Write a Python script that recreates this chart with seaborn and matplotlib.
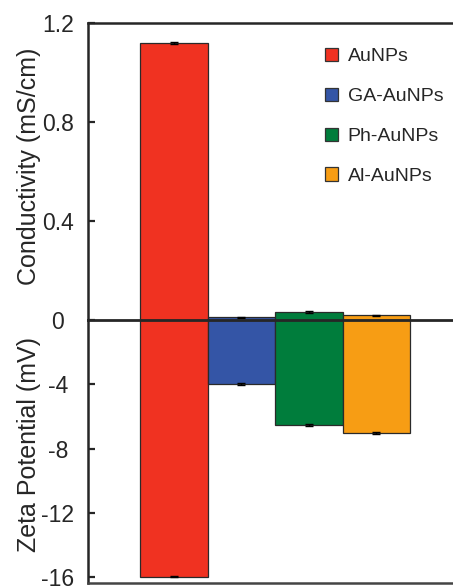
import matplotlib
matplotlib.use("Agg")
import matplotlib.pyplot as plt
import matplotlib.patches as mpatches
import seaborn as sns
import numpy as np

# ---- data ----
categories = ["AuNPs", "GA-AuNPs", "Ph-AuNPs", "Al-AuNPs"]
conductivity = [1.12, 0.012, 0.032, 0.020]      # mS/cm
conductivity_err = [0.005, 0.002, 0.003, 0.002]
zeta = [-15.95, -3.98, -6.53, -7.02]             # mV
zeta_err = [0.05, 0.05, 0.06, 0.05]
colors = ["#F03221", "#3455A6", "#007D3C", "#F79D14"]
cond_ticks = [0.4, 0.8, 1.2]
cond_ticklabels = ["0.4", "0.8", "1.2"]
zeta_ticks = [0, -4, -8, -12, -16]
zeta_ticklabels = ["0", "-4", "-8", "-12", "-16"]

sns.set_style("ticks")
plt.rcParams["font.family"] = ["Liberation Sans", "DejaVu Sans"]

W, H = 453, 586
fig = plt.figure(figsize=(W / 100, H / 100), dpi=100)

x_left_px, x_right_px = 88, 458
top_px, zero_px, bot_px = 23, 320, 583
ax_top = fig.add_axes([x_left_px / W, (H - zero_px) / H,
                       (x_right_px - x_left_px) / W, (zero_px - top_px) / H])
ax_bot = fig.add_axes([x_left_px / W, (H - bot_px) / H,
                       (x_right_px - x_left_px) / W, (bot_px - zero_px) / H])

xs = np.arange(len(categories))
for ax, vals, errs in [(ax_top, conductivity, conductivity_err),
                       (ax_bot, zeta, zeta_err)]:
    sns.barplot(x=categories, y=vals, hue=categories, palette=colors,
                saturation=1, width=1.0, edgecolor="#2a2a2a", linewidth=0.9,
                legend=False, ax=ax, errorbar=None)
    ax.errorbar(xs, vals, yerr=errs, fmt="none", ecolor="black",
                elinewidth=1.0, capsize=3.0, capthick=1.0, zorder=5)
    ax.set_xlim(-1.27, 4.21)
    ax.set_xticks([])
    ax.set_xlabel("")
    ax.tick_params(axis="y", direction="in", length=5, width=1.6,
                   labelsize=16.5, pad=21.6)
    ax.spines["right"].set_visible(False)
    ax.spines["left"].set_linewidth(1.8)

ax_top.set_ylim(0, 1.2)
ax_top.set_yticks(cond_ticks)
ax_top.set_yticklabels(cond_ticklabels)
ax_top.spines["bottom"].set_visible(False)
ax_top.spines["top"].set_linewidth(1.8)

ax_bot.set_ylim(-16.35, 0)
ax_bot.set_yticks(zeta_ticks)
ax_bot.set_yticklabels(zeta_ticklabels)
ax_bot.spines["top"].set_linewidth(2.0)
ax_bot.spines["top"].set_zorder(6)
ax_bot.spines["bottom"].set_linewidth(1.8)
ax_bot.spines["bottom"].set_color("#444444")

for ax in (ax_top, ax_bot):
    for lab in ax.get_yticklabels():
        lab.set_horizontalalignment("center")

fig.text(29 / W, 1 - 166 / H, "Conductivity (mS/cm)", rotation=90,
         ha="center", va="center", fontsize=18)
fig.text(29 / W, 1 - 445 / H, "Zeta Potential (mV)", rotation=90,
         ha="center", va="center", fontsize=18)

handles = [mpatches.Patch(facecolor=c, edgecolor="#333333", linewidth=0.9, label=l)
           for c, l in zip(colors, categories)]
ax_top.legend(handles=handles, loc="upper left",
              bbox_to_anchor=(325 / W, 1 - 48 / H), bbox_transform=fig.transFigure,
              frameon=False, fontsize=14, handlelength=0.67, handleheight=0.67,
              handletextpad=0.5, labelspacing=1.15, borderpad=0, borderaxespad=0)

fig.savefig("out.png", dpi=100)
